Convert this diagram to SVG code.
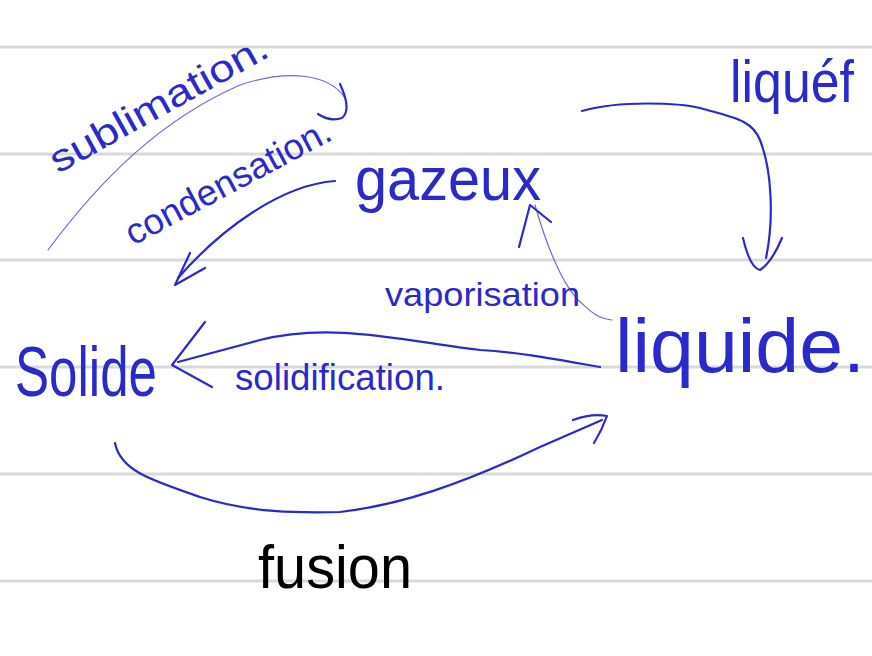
<svg xmlns="http://www.w3.org/2000/svg" width="872" height="656" viewBox="0 0 872 656">
<style>
.rule{stroke:#d9d9d9;stroke-width:3}
.ink{fill:none;stroke:#2a2acc;stroke-width:2.2;stroke-linecap:round;stroke-linejoin:round}
.thin{fill:none;stroke:#6a6ae0;stroke-width:1.2;stroke-linecap:round}
.t{font-family:"Liberation Sans","DejaVu Sans",sans-serif;fill:#2a2acc}
</style>
<rect width="872" height="656" fill="#ffffff"/>
<g id="ruling">
<line class="rule" x1="0" y1="47" x2="872" y2="47"/>
<line class="rule" x1="0" y1="154" x2="872" y2="154"/>
<line class="rule" x1="0" y1="260" x2="872" y2="260"/>
<line class="rule" x1="0" y1="367" x2="872" y2="367"/>
<line class="rule" x1="0" y1="474" x2="872" y2="474"/>
<line class="rule" x1="0" y1="581" x2="872" y2="581"/>
</g>
<g id="connectors">
<path class="thin" d="M48 250 C100 180 160 120 240 85 C290 68 330 75 345 98"/>
<path class="ink" d="M340 84 Q352 110 342 118 Q330 122 318 114"/>
<path class="ink" d="M335 181 C280 185 220 230 178 278"/>
<path class="ink" d="M190 253 L175 285 L205 268"/>
<path class="ink" d="M582 111 C620 100 680 103 700 108 C735 118 752 120 760 140 C772 170 774 220 766 258"/>
<path class="ink" d="M743 238 Q750 268 760 270 Q772 262 782 238"/>
<path class="thin" d="M612 320 C595 318 590 310 578 300 C560 280 545 240 535 205"/>
<path class="ink" d="M519 247 L530 205 L551 222"/>
<path class="ink" d="M600 367 C560 360 520 352 480 350 C400 340 330 322 260 340 L178 362"/>
<path class="ink" d="M205 322 L172 365 L212 387"/>
<path class="ink" d="M115 443 C120 470 150 480 200 497 C250 513 300 513 340 512 C400 505 460 485 540 447 L602 420"/>
<path class="ink" d="M573 420 Q592 413 607 416 Q602 430 594 443"/>
</g>
<g id="sublimation"><text class="t" font-size="38" transform="translate(58 174) rotate(-29)" textLength="244" lengthAdjust="spacingAndGlyphs">sublimation.</text></g>
<g id="condensation"><text class="t" font-size="36" transform="translate(133 246) rotate(-28)" textLength="228" lengthAdjust="spacingAndGlyphs">condensation.</text></g>
<g id="gazeux"><text class="t" x="355" y="200" font-size="62" textLength="186" lengthAdjust="spacingAndGlyphs">gazeux</text></g>
<g id="liquefaction"><text class="t" x="730" y="102" font-size="60" textLength="124" lengthAdjust="spacingAndGlyphs">liquéf</text></g>
<g id="vaporisation"><text class="t" x="385" y="306" font-size="34" textLength="195" lengthAdjust="spacingAndGlyphs">vaporisation</text></g>
<g id="solide"><text class="t" x="15" y="396" font-size="70" textLength="142" lengthAdjust="spacingAndGlyphs">Solide</text></g>
<g id="solidification"><text class="t" x="235" y="390" font-size="36" textLength="210" lengthAdjust="spacingAndGlyphs">solidification.</text></g>
<g id="liquide"><text class="t" x="615" y="372" font-size="76" textLength="250" lengthAdjust="spacingAndGlyphs">liquide.</text></g>
<g id="fusion"><text x="258" y="588" font-size="62" font-family="Liberation Sans,DejaVu Sans,sans-serif" fill="#000000" textLength="154" lengthAdjust="spacingAndGlyphs">fusion</text></g>
</svg>
